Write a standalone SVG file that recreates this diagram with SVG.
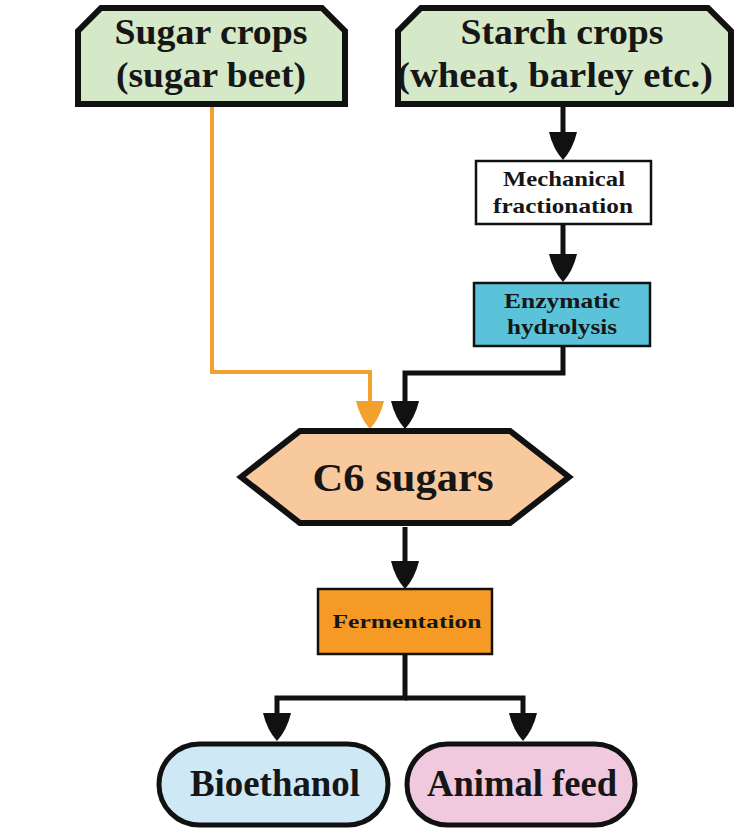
<svg xmlns="http://www.w3.org/2000/svg" width="740" height="829" viewBox="0 0 740 829">
  <style>
    text { font-family: "Liberation Serif", "Times New Roman", serif; font-weight: bold; fill: #161616; text-anchor: middle; }
    .crop { fill: #d5e8c8; stroke: #111; stroke-width: 6; stroke-linejoin: miter; }
    .step { stroke: #111; stroke-width: 2.5; }
    .big { font-size: 35px; }
    .small { font-size: 21px; }
    .link { fill: none; stroke: #111; stroke-width: 5; stroke-linejoin: miter; }
    .link-orange { fill: none; stroke: #f2a12e; stroke-width: 4; stroke-linejoin: miter; }
    .product { stroke: #111; stroke-width: 5; }
  </style>
  <defs>
    <marker id="head" viewBox="0 0 28 28" markerUnits="userSpaceOnUse" markerWidth="28" markerHeight="28" refX="0" refY="14" orient="auto">
      <path d="M0,0 Q17,4 28,14 Q17,24 0,28 Z" fill="#111"/>
    </marker>
    <marker id="head-orange" viewBox="0 0 28 28" markerUnits="userSpaceOnUse" markerWidth="28" markerHeight="28" refX="0" refY="14" orient="auto">
      <path d="M0,0 Q17,4 28,14 Q17,24 0,28 Z" fill="#f2a12e"/>
    </marker>
  </defs>

  <!-- connectors -->
  <g id="connectors">
    <path class="link-orange" d="M212,107 V372 H370 V401" marker-end="url(#head-orange)"/>
    <path class="link" d="M563,107 V132" marker-end="url(#head)"/>
    <path class="link" d="M563,225 V254" marker-end="url(#head)"/>
    <path class="link" d="M563,347 V373 H405 V401" marker-end="url(#head)"/>
    <path class="link" d="M405,527 V561" marker-end="url(#head)"/>
    <path class="link" d="M405,655 V698 H277 V713" marker-end="url(#head)"/>
    <path class="link" d="M405,698 H523 V713" marker-end="url(#head)"/>
  </g>

  <!-- source crops -->
  <g id="sugar-crops">
    <path class="crop" d="M78,31 L101,8 L322,8 L345,31 V104 H78 Z"/>
    <text class="big" x="211" y="44" textLength="193" lengthAdjust="spacingAndGlyphs">Sugar crops</text>
    <text class="big" x="211" y="87" textLength="190" lengthAdjust="spacingAndGlyphs">(sugar beet)</text>
  </g>
  <g id="starch-crops">
    <path class="crop" d="M398,31 L421,8 L708,8 L731,31 V104 H398 Z"/>
    <text class="big" x="562" y="44" textLength="203" lengthAdjust="spacingAndGlyphs">Starch crops</text>
    <text class="big" x="555" y="87" textLength="316" lengthAdjust="spacingAndGlyphs">(wheat, barley etc.)</text>
  </g>

  <!-- starch processing -->
  <g id="mechanical-fractionation">
    <rect class="step" x="476" y="161" width="175" height="63" fill="#ffffff"/>
    <text class="small" x="564" y="186" textLength="122" lengthAdjust="spacingAndGlyphs">Mechanical</text>
    <text class="small" x="563" y="213" textLength="140" lengthAdjust="spacingAndGlyphs">fractionation</text>
  </g>
  <g id="enzymatic-hydrolysis">
    <rect class="step" x="474" y="283" width="176" height="63" fill="#5bc3d9"/>
    <text class="small" x="562" y="308" textLength="116" lengthAdjust="spacingAndGlyphs">Enzymatic</text>
    <text class="small" x="562" y="334" textLength="110" lengthAdjust="spacingAndGlyphs">hydrolysis</text>
  </g>

  <!-- central product -->
  <g id="c6-sugars">
    <polygon points="241,477 300,431 510,431 569,477 510,523 300,523" fill="#f8c99c" stroke="#111" stroke-width="6" stroke-linejoin="miter"/>
    <text x="403" y="491" font-size="41" textLength="181" lengthAdjust="spacingAndGlyphs">C6 sugars</text>
  </g>

  <g id="fermentation">
    <rect class="step" x="318" y="589" width="174" height="65" fill="#f59b25"/>
    <text x="407" y="628" font-size="19" textLength="149" lengthAdjust="spacingAndGlyphs">Fermentation</text>
  </g>

  <!-- end products -->
  <g id="bioethanol">
    <rect class="product" x="159" y="744" width="229" height="81" rx="40.5" fill="#cfe8f6"/>
    <text x="275" y="796" font-size="37" textLength="170" lengthAdjust="spacingAndGlyphs">Bioethanol</text>
  </g>
  <g id="animal-feed">
    <rect class="product" x="407" y="744" width="228" height="81" rx="40.5" fill="#f0c9df"/>
    <text x="522" y="796" font-size="37" textLength="190" lengthAdjust="spacingAndGlyphs">Animal feed</text>
  </g>
</svg>
